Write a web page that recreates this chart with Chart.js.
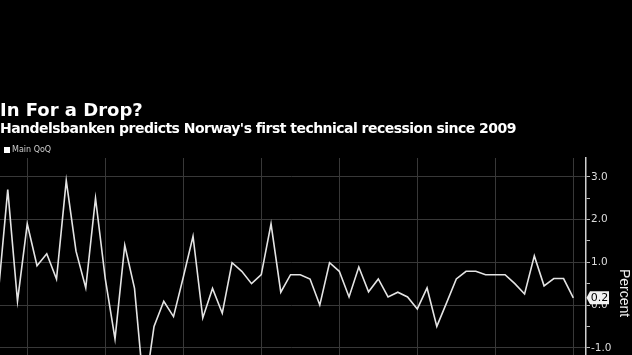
<!DOCTYPE html>
<html><head><meta charset="utf-8">
<script src="https://cdn.jsdelivr.net/npm/chart.js@4/dist/chart.umd.min.js"></script>
<style>
html,body{margin:0;padding:0;background:#000;width:632px;height:355px;overflow:hidden;position:relative}
#wrap{position:absolute;left:-2px;top:0;width:634px;height:440px}
.t{position:absolute;left:0;color:#fff;white-space:nowrap;font-family:"DejaVu Sans",sans-serif;}
#title{top:100.8px;font-size:18px;line-height:18px;font-weight:bold}
#sub{top:120.8px;font-size:14px;line-height:14px;font-weight:bold;letter-spacing:-0.53px}
#leg{top:145.5px;left:12px;font-size:8px;line-height:8px;color:#ccc}
#sq{position:absolute;left:4px;top:147px;width:6px;height:6px;background:#fff}
</style></head>
<body>
<div id="wrap"><canvas id="c" width="634" height="440" style="width:634px;height:440px"></canvas></div>
<div class="t" id="title">In For a Drop?</div>
<div class="t" id="sub">Handelsbanken predicts Norway's first technical recession since 2009</div>
<div id="sq"></div>
<div class="t" id="leg">Main QoQ</div>
<script>
const quarters = [
 "Q1 2005","Q2 2005","Q3 2005","Q4 2005","Q1 2006","Q2 2006","Q3 2006","Q4 2006",
 "Q1 2007","Q2 2007","Q3 2007","Q4 2007","Q1 2008","Q2 2008","Q3 2008","Q4 2008",
 "Q1 2009","Q2 2009","Q3 2009","Q4 2009","Q1 2010","Q2 2010","Q3 2010","Q4 2010",
 "Q1 2011","Q2 2011","Q3 2011","Q4 2011","Q1 2012","Q2 2012","Q3 2012","Q4 2012",
 "Q1 2013","Q2 2013","Q3 2013","Q4 2013","Q1 2014","Q2 2014","Q3 2014","Q4 2014",
 "Q1 2015","Q2 2015","Q3 2015","Q4 2015","Q1 2016","Q2 2016","Q3 2016","Q4 2016",
 "Q1 2017","Q2 2017","Q3 2017","Q4 2017","Q1 2018","Q2 2018","Q3 2018","Q4 2018",
 "Q1 2019","Q2 2019","Q3 2019","Q4 2019"
];
const mainQoQ = [
 0.20, 2.70, 0.09, 1.90, 0.92, 1.20, 0.61, 2.91, 1.26, 0.40,
 2.50, 0.62, -0.79, 1.40, 0.39, -2.10, -0.50, 0.09, -0.27, 0.65,
 1.61, -0.30, 0.39, -0.19, 0.99, 0.79, 0.50, 0.71, 1.90, 0.30,
 0.71, 0.71, 0.61, 0.00, 0.99, 0.79, 0.19, 0.89, 0.31, 0.61,
 0.19, 0.30, 0.19, -0.09, 0.40, -0.50, 0.05, 0.61, 0.79, 0.79,
 0.71, 0.71, 0.71, 0.50, 0.26, 1.15, 0.45, 0.62, 0.62, 0.17
];
const yTickValues = [-2.5,-2.0,-1.5,-1.0,-0.5,0.0,0.5,1.0,1.5,2.0,2.5,3.0];
const xGridQuarters = ["Q4 2005","Q4 2007","Q4 2009","Q4 2011","Q4 2013","Q4 2015","Q4 2017","Q4 2019"];

const points = mainQoQ.map((v, i) => ({x: i, y: v}));
const gridIdx = xGridQuarters.map(q => quarters.indexOf(q));

const valueLabel = {
  id: 'valueLabel',
  afterDraw(chart) {
    const {ctx, chartArea, scales} = chart;
    const last = mainQoQ[mainQoQ.length - 1];
    const py = scales.y.getPixelForValue(last);
    const x0 = chartArea.right;
    ctx.save();
    ctx.fillStyle = '#f2f2f2';
    ctx.beginPath();
    ctx.moveTo(x0 + 0.5, py);
    ctx.lineTo(x0 + 4, py - 6.5);
    ctx.lineTo(x0 + 23, py - 6.5);
    ctx.lineTo(x0 + 23, py + 6.5);
    ctx.lineTo(x0 + 4, py + 6.5);
    ctx.closePath();
    ctx.fill();
    ctx.fillStyle = '#000';
    ctx.font = '11px "DejaVu Sans"';
    ctx.textAlign = 'center';
    ctx.textBaseline = 'middle';
    ctx.fillText(last.toFixed(1), x0 + 13.5, py + 0.5);
    ctx.restore();
  }
};

new Chart(document.getElementById('c'), {
  type: 'line',
  data: {
    labels: quarters,
    datasets: [{
      label: 'Main QoQ',
      data: points,
      borderColor: '#e4e4e4',
      borderWidth: 1.6,
      pointRadius: 0,
      tension: 0,
      fill: false
    }]
  },
  options: {
    responsive: false,
    animation: false,
    layout: {padding: {top: 158, bottom: 12, left: 0, right: 0}},
    plugins: {legend: {display: false}, tooltip: {enabled: false}},
    scales: {
      x: {
        type: 'linear',
        min: 0,
        max: 60.3,
        afterBuildTicks: s => { s.ticks = gridIdx.map(v => ({value: v})); },
        ticks: {display: false},
        grid: {color: '#383838', lineWidth: 1, drawTicks: false},
        border: {display: false}
      },
      y: {
        position: 'right',
        min: -2.876,
        max: 3.44,
        afterBuildTicks: s => { s.ticks = yTickValues.map(v => ({value: v})); },
        afterFit: s => { s.width = 46; },
        ticks: {
          color: '#dcdcdc',
          font: {family: 'DejaVu Sans', size: 10.5},
          padding: 1,
          callback: v => (Math.abs(v % 1) < 1e-9 ? v.toFixed(1) : '')
        },
        grid: {
          color: c => (c.tick && Math.abs(c.tick.value % 1) < 1e-9 ? '#383838' : 'rgba(0,0,0,0)'),
          tickColor: '#bdbdbd',
          tickLength: 4,
          drawTicks: true
        },
        border: {display: true, color: '#cfcfcf', width: 1.5},
        title: {
          display: true,
          text: 'Percent',
          color: '#eeeeee',
          font: {family: 'Liberation Sans', size: 14},
          padding: 0
        }
      }
    }
  },
  plugins: [valueLabel]
});
</script>
</body></html>
